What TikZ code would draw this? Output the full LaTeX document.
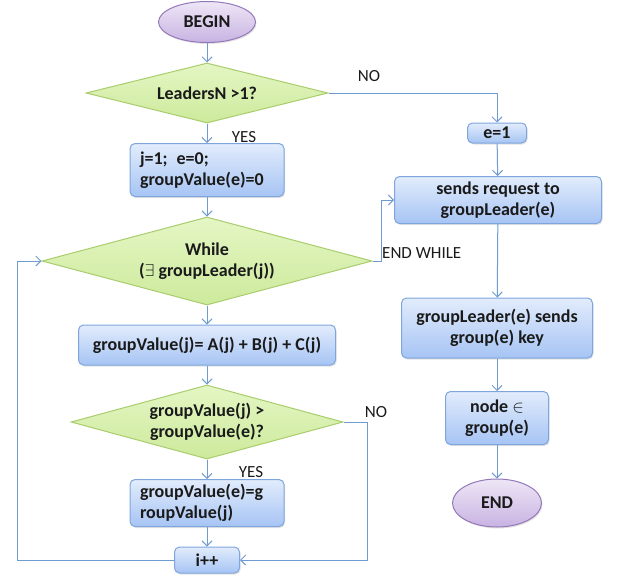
\documentclass[tikz,border=0pt]{standalone}
\usepackage{fontspec}
\setmainfont{Carlito}
\usetikzlibrary{shapes.geometric,arrows.meta,shadows}
\definecolor{lineblue}{HTML}{6F9BD3}
\definecolor{boxedge}{HTML}{7EA6DC}
\definecolor{boxtop}{HTML}{E2ECFC}
\definecolor{boxbot}{HTML}{A6C4F4}
\definecolor{dedge}{HTML}{A9CD6C}
\definecolor{dtop}{HTML}{E4F6C4}
\definecolor{dbot}{HTML}{CDEA9C}
\definecolor{eedge}{HTML}{9479B9}
\definecolor{etop}{HTML}{EEE6F6}
\definecolor{ebot}{HTML}{C8B3E2}
\definecolor{txt}{HTML}{1A1A1A}
\tikzset{
  softshadow/.style={drop shadow={opacity=0.22,shadow xshift=1pt,shadow yshift=-1.5pt}},
  boxnode/.style={rectangle,rounded corners=5pt,draw=boxedge,line width=1pt,top color=boxtop,bottom color=boxbot,softshadow,
    font=\fontsize{18}{21}\selectfont\bfseries,text=txt,inner sep=0pt,align=center},
  decnode/.style={diamond,draw=dedge,line width=1pt,top color=dtop,bottom color=dbot,
    font=\fontsize{18}{21}\selectfont\bfseries,text=txt,inner sep=0pt,align=center},
  termnode/.style={ellipse,draw=eedge,line width=1pt,top color=etop,bottom color=ebot,softshadow,
    font=\fontsize{18}{21}\selectfont\bfseries,text=txt,inner sep=0pt},
  lbl/.style={font=\fontsize{17}{20}\selectfont,text=txt,inner sep=0pt},
  conn/.style={draw=lineblue,line width=1pt},
  arr/.style={conn,-{Straight Barb[length=5pt,width=10pt]}}
}
\begin{document}
\begin{tikzpicture}[x=1pt,y=-1pt]
\useasboundingbox (0,0) rectangle (620,576);
% left column
\node[termnode,minimum width=97pt,minimum height=41pt] (begin) at (207,22) {BEGIN};
\node[decnode,minimum width=242pt,minimum height=60pt,aspect=4] (d1) at (207,93) {LeadersN >1?};
\node[boxnode,minimum width=154pt,minimum height=53pt,text width=134pt,align=left] (b1) at (207,170) {j=1;\enspace e=0;\\groupValue(e)=0};
\node[decnode,minimum width=330pt,minimum height=88pt,aspect=3.75] (wh) at (207,261) {While\\($\exists$ groupLeader(j))};
\node[boxnode,minimum width=257pt,minimum height=40pt] (gvj) at (207,345) {groupValue(j)= A(j) + B(j) + C(j)};
\node[decnode,minimum width=272pt,minimum height=74pt,aspect=3.68] (d3) at (207,422) {groupValue(j) >\\groupValue(e)?};
\node[boxnode,minimum width=154pt,minimum height=47pt,text width=134pt,align=left] (gve) at (207,503) {groupValue(e)=g\\roupValue(j)};
\node[boxnode,minimum width=65pt,minimum height=26pt] (ipp) at (207,560) {i++};
% right column
\node[boxnode,minimum width=59pt,minimum height=20pt] (e1) at (497,133) {e=1};
\node[boxnode,minimum width=207pt,minimum height=47pt] (sends) at (498,200) {sends request to\\groupLeader(e)};
\node[boxnode,minimum width=191pt,minimum height=60pt] (gls) at (497,328) {groupLeader(e) sends\\group(e) key};
\node[boxnode,minimum width=103pt,minimum height=53pt] (nin) at (497,418) {node $\in$\\group(e)};
\node[termnode,minimum width=89pt,minimum height=48pt] (end) at (497,503) {END};
% labels
\node[lbl] (yes1) at (244,137) {YES};
\node[lbl] (no1) at (369,76) {NO};
\node[lbl,anchor=west] (endwhile) at (382,253) {END WHILE};
\node[lbl] (no2) at (376,412) {NO};
\node[lbl] (yes2) at (251,472) {YES};
% helper coordinates
\coordinate (ewc) at (381,261);
\coordinate (noc) at (367,560);
\coordinate (loopc) at (17,560);
% connectors
\draw[arr] (begin) -- (d1);
\draw[arr] (d1) -- (b1);
\draw[arr] (d1.east) -| (e1.north);
\draw[arr] (e1) -- (sends);
\draw[arr] (b1) -- (wh);
\draw[arr] (wh.east) -- (ewc) |- (sends.west);
\draw[arr] (wh) -- (gvj);
\draw[arr] (gvj) -- (d3);
\draw[arr] (d3) -- (gve);
\draw[arr] (gve) -- (ipp);
\draw[arr] (d3.east) -| (noc) -- (ipp.east);
\draw[arr] (ipp.west) -- (loopc) |- (wh.west);
\draw[arr] (sends) -- (gls);
\draw[arr] (gls) -- (nin);
\draw[arr] (nin) -- (end);
\end{tikzpicture}
\end{document}
